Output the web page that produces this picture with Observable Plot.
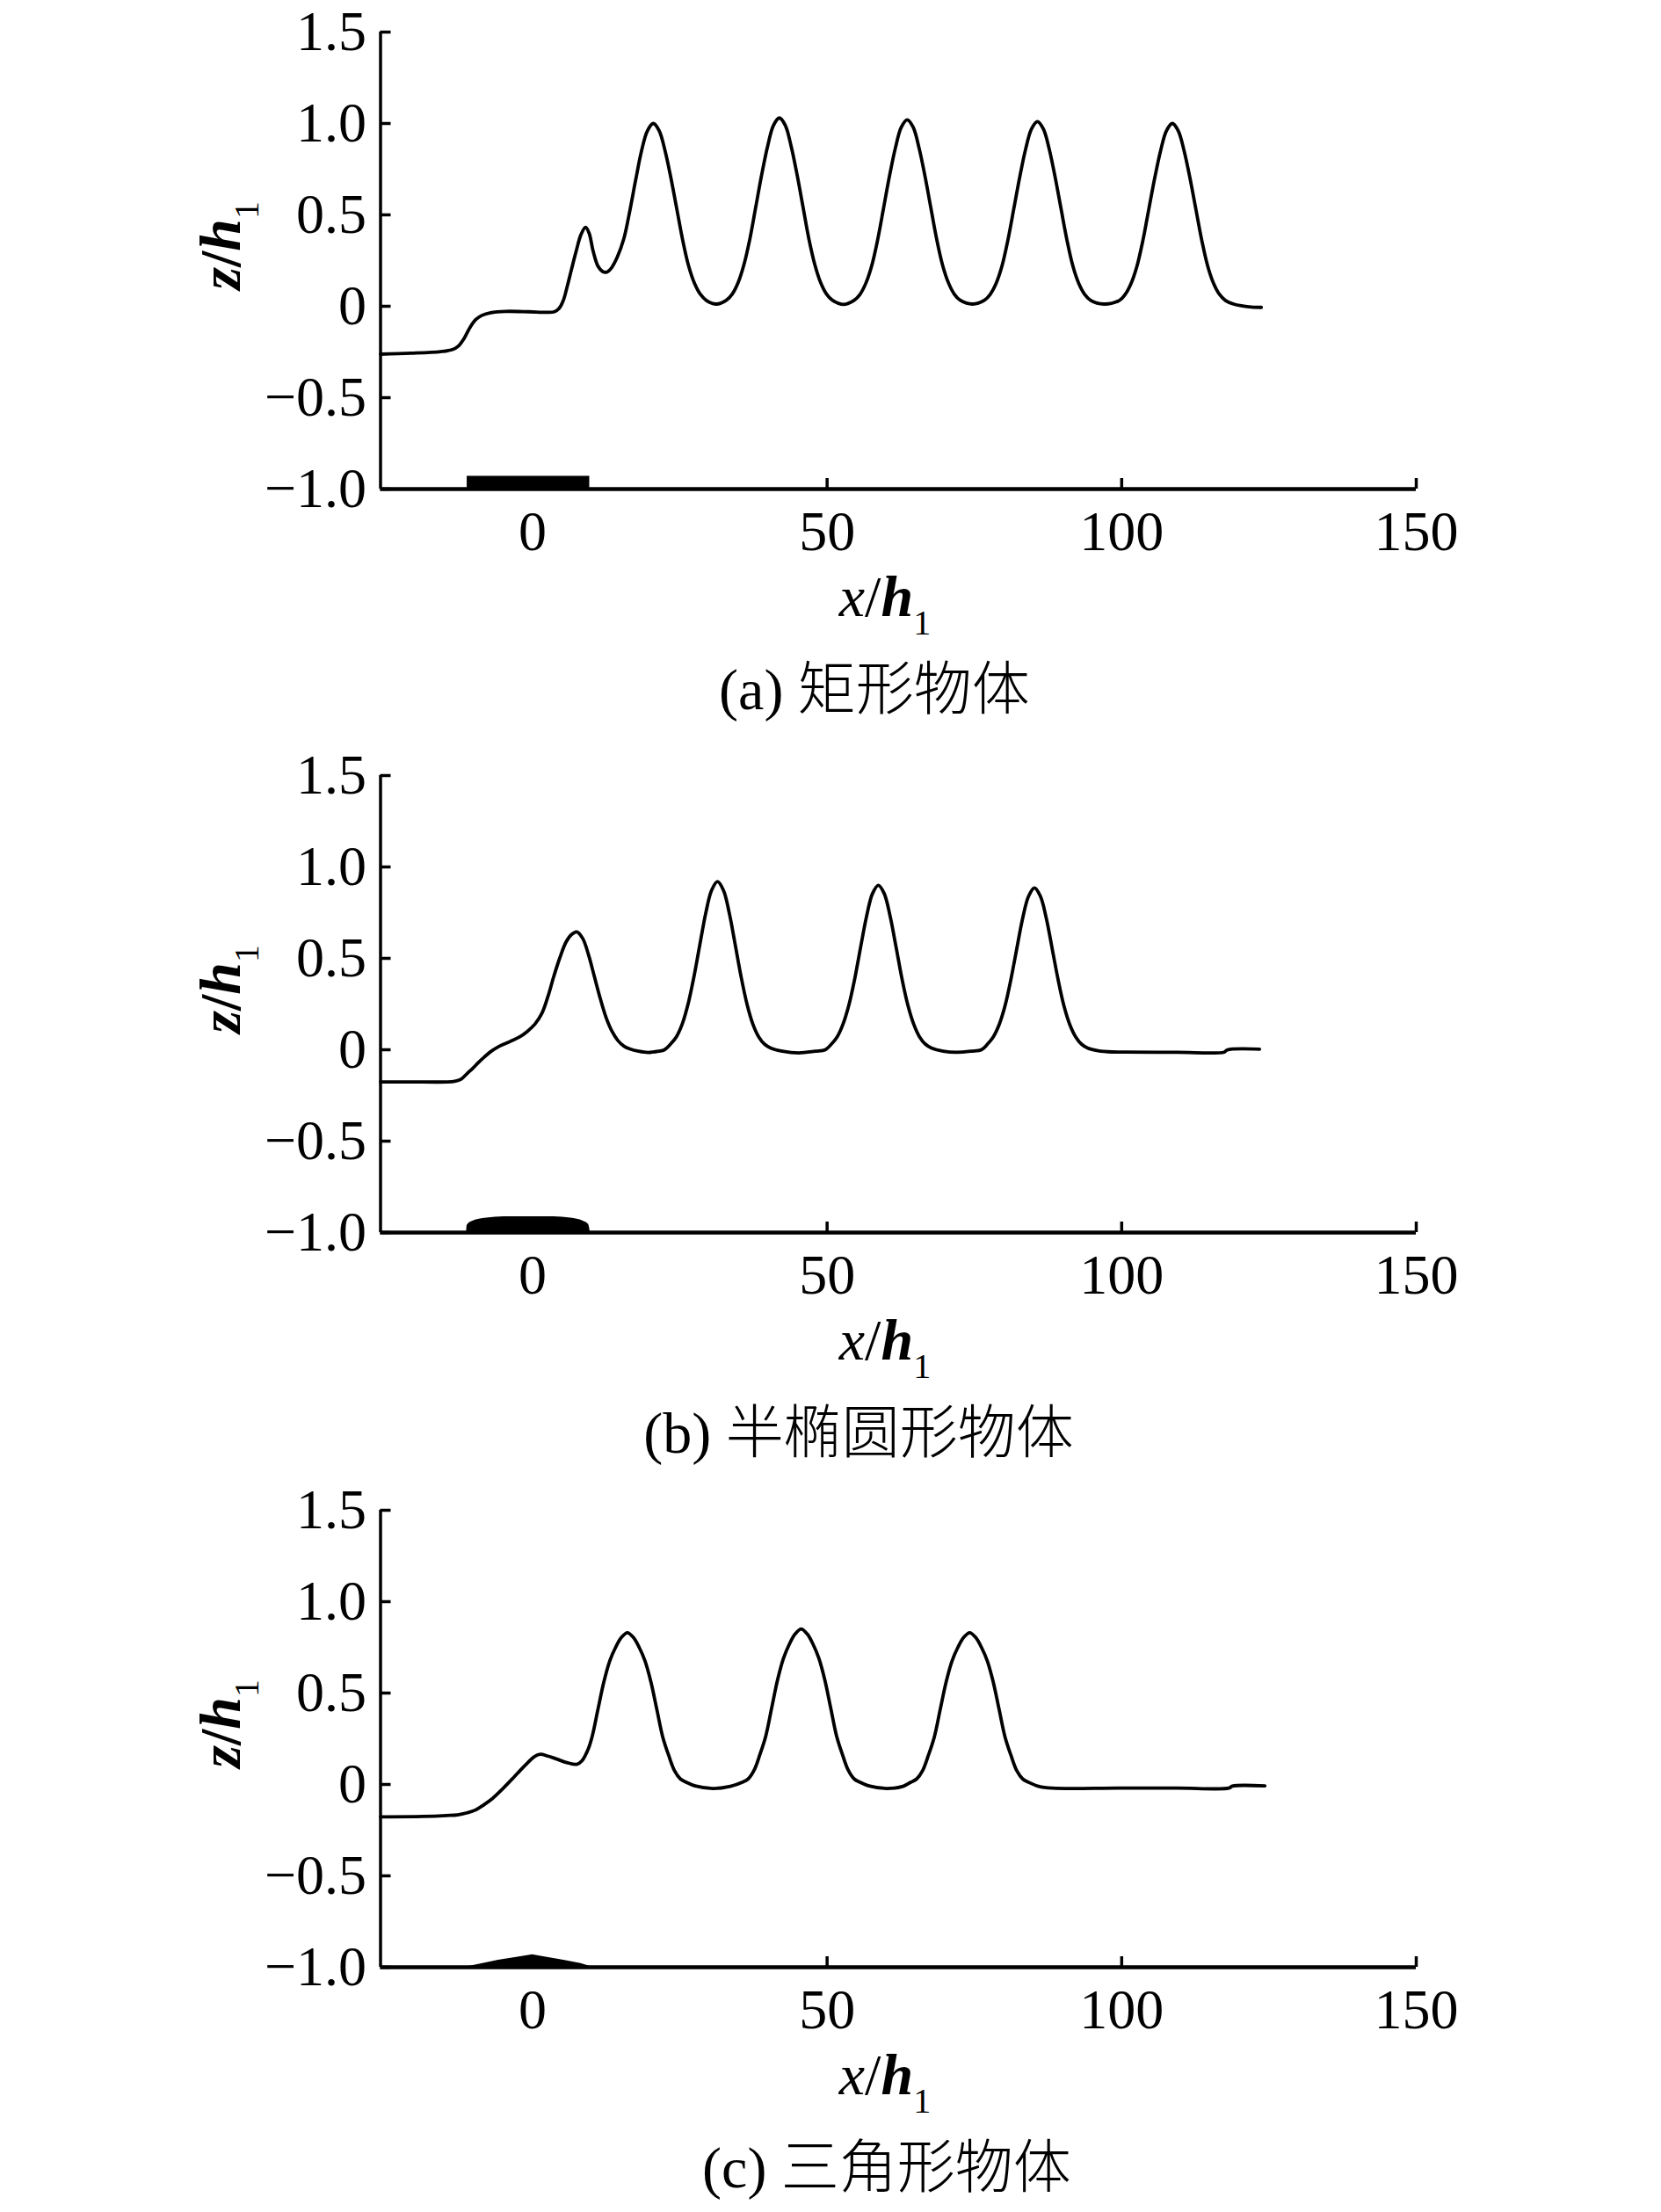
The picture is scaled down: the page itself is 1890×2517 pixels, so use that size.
<!DOCTYPE html>
<html>
<head>
<meta charset="utf-8">
<script src="https://cdn.jsdelivr.net/npm/d3@7"></script>
<script src="https://cdn.jsdelivr.net/npm/@observablehq/plot@0.6"></script>
<style>
  html, body { margin: 0; padding: 0; background: #fff; }
  body { width: 1890px; height: 2517px; position: relative; overflow: hidden;
         font-family: "Liberation Serif", "Times New Roman", serif; color: #000; }
  .panel { position: absolute; left: 0; width: 1890px; }
  .panel svg { display: block; overflow: visible; }
  .caption { position: absolute; font-size: 66px; line-height: 1; white-space: nowrap;
             transform: translateX(-50%); color: #000; font-weight: 300;
             font-family: "Liberation Serif", "Noto Sans CJK SC", serif; }
</style>
</head>
<body>
<script>
// ---------- axes ----------
const xDomain = [-25.8, 150];
const yDomain = [-1, 1.5];
const xTicks = [0, 50, 100, 150];
const yTicks = [-1, -0.5, 0, 0.5, 1, 1.5];

// ---------- captions ----------
const captions = ["(a) 矩形物体", "(b) 半椭圆形物体", "(c) 三角形物体"];

// ---------- (a) rectangular object ----------
const aX = [-25.8, -20.6, -15.6, -13.6, -12.6, -11.6, -10.6, -9.6, -8.6, -7.1, -4.6, -0.6, 2.4, 3.7, 4.5, 5.2, 5.9, 6.6, 7.4, 8.2, 9.0, 9.6, 10.3, 11.1, 11.9, 12.6, 13.4, 14.4, 15.5,
  16.5, 17.5, 18.5, 19.5, 20.5, 21.5, 22.5, 23.5, 24.5, 25.5, 26.5, 27.5, 28.5, 29.5, 31.2,
  32.9, 33.9, 34.9, 35.9, 36.9, 37.9, 38.9, 39.9, 40.9, 41.9, 42.9, 43.9, 44.9, 45.9, 46.9, 47.9, 48.9, 49.9, 50.9, 52.8,
  54.6, 55.6, 56.6, 57.6, 58.6, 59.6, 60.6, 61.6, 62.6, 63.6, 64.6, 65.6, 66.6, 67.6, 68.6, 69.6, 70.6, 71.6, 72.6, 74.7,
  76.7, 77.7, 78.7, 79.7, 80.7, 81.7, 82.7, 83.7, 84.7, 85.7, 86.7, 87.7, 88.7, 89.7, 90.7, 91.7, 92.7, 93.7, 94.7, 97.0,
  99.6, 100.6, 101.6, 102.6, 103.6, 104.6, 105.6, 106.6, 107.6, 108.6, 109.6, 110.6, 111.6, 112.6, 113.6, 114.6, 115.6, 116.6, 117.6, 119.0, 120.5, 122.0, 123.7];
const aZ = [-0.262, -0.257, -0.248, -0.237, -0.218, -0.175, -0.115, -0.072, -0.05, -0.035, -0.028, -0.03, -0.033, -0.03, -0.012, 0.03, 0.11, 0.2, 0.3, 0.39, 0.432, 0.4, 0.3, 0.22, 0.19, 0.187, 0.21, 0.27, 0.37,
  0.52, 0.69, 0.85, 0.96, 1.0, 0.96, 0.85, 0.7, 0.53, 0.36, 0.22, 0.125, 0.065, 0.032, 0.012,
  0.033, 0.067, 0.13, 0.23, 0.37, 0.545, 0.72, 0.875, 0.99, 1.03, 0.99, 0.875, 0.72, 0.545, 0.37, 0.23, 0.13, 0.067, 0.033, 0.01,
  0.033, 0.066, 0.128, 0.225, 0.367, 0.54, 0.714, 0.867, 0.98, 1.02, 0.98, 0.867, 0.714, 0.54, 0.367, 0.225, 0.128, 0.066, 0.033, 0.012,
  0.033, 0.066, 0.126, 0.222, 0.364, 0.535, 0.707, 0.86, 0.97, 1.01, 0.97, 0.86, 0.707, 0.535, 0.364, 0.222, 0.126, 0.066, 0.033, 0.012,
  0.032, 0.065, 0.125, 0.22, 0.36, 0.53, 0.7, 0.85, 0.96, 1.0, 0.96, 0.85, 0.7, 0.53, 0.36, 0.22, 0.125, 0.065, 0.032, 0.012, 0.002, -0.004, -0.006];
const aObjX = [-11.1, 9.7];
const aObjZ = [-1, -0.93];

// ---------- (b) semi-elliptical object ----------
const bX = [-25.8, -20.6, -14.6, -13.2, -12.1, -11.1, -10.1, -9.2, -8.2, -7.0, -5.6, -3.8, -2.2, -0.9, 0.4, 1.6, 2.6, 3.6, 4.6, 5.7, 6.6, 7.5, 8.5, 9.5, 10.5, 11.5, 12.5, 13.5, 14.5, 15.5, 16.5, 18.0, 19.6, 21.4,
  22.4, 23.4, 24.4, 25.4, 26.4, 27.4, 28.4, 29.4, 30.4, 31.4, 32.4, 33.4, 34.4, 35.4, 36.4, 37.4, 38.4, 39.4, 40.4, 42.4, 45.2, 48.0,
  49.7, 50.7, 51.7, 52.7, 53.7, 54.7, 55.7, 56.7, 57.7, 58.7, 59.7, 60.7, 61.7, 62.7, 63.7, 64.7, 65.7, 66.7, 67.7, 69.7, 72.0, 74.5,
  76.2, 77.2, 78.2, 79.2, 80.2, 81.2, 82.2, 83.2, 84.2, 85.2, 86.2, 87.2, 88.2, 89.2, 90.2, 91.2, 92.2, 93.2, 94.2, 96.0, 98.5, 100.5, 109.4, 117.4, 117.9, 123.4];
const bZ = [-0.176, -0.176, -0.176, -0.172, -0.16, -0.13, -0.1, -0.07, -0.04, -0.008, 0.02, 0.045, 0.07, 0.1, 0.14, 0.2, 0.29, 0.4, 0.5, 0.59, 0.63, 0.645, 0.61, 0.52, 0.4, 0.28, 0.175, 0.1, 0.05, 0.02, 0.005, -0.008, -0.015, -0.008,
  0.0, 0.03, 0.07, 0.14, 0.25, 0.4, 0.575, 0.747, 0.873, 0.92, 0.873, 0.747, 0.575, 0.4, 0.25, 0.14, 0.07, 0.03, 0.01, -0.008, -0.017, -0.008,
  0.0, 0.03, 0.07, 0.14, 0.245, 0.39, 0.563, 0.73, 0.854, 0.9, 0.854, 0.73, 0.563, 0.39, 0.245, 0.14, 0.07, 0.03, 0.01, -0.008, -0.014, -0.008,
  0.0, 0.03, 0.07, 0.137, 0.24, 0.385, 0.554, 0.72, 0.84, 0.885, 0.84, 0.72, 0.554, 0.385, 0.24, 0.137, 0.07, 0.03, 0.01, -0.005, -0.012, -0.013, -0.014, -0.013, -0.001, 0.003];
const bObjX = [-11.2, -11.1, -10.3, -7.8, -4.8, -0.7, 3.6, 6.5, 8.6, 9.5, 9.8];
const bObjZ = [-1, -0.96, -0.94, -0.921, -0.914, -0.913, -0.914, -0.921, -0.938, -0.955, -1];

// ---------- (c) triangular object ----------
const cX = [-25.8, -18.6, -14.6, -12.7, -11.1, -9.7, -8.2, -6.8, -5.1, -3.3, -2.0, -0.9, 0.2, 1.3, 2.6, 4.0, 5.8, 7.5, 8.4, 9.4, 10.1,
  11.1, 12.1, 13.1, 14.1, 15.1, 16.1, 17.1, 18.1, 19.1, 20.1, 21.1, 22.1, 23.1, 24.1, 25.1, 26.1, 27.6, 30.6, 33.6,
  35.6, 36.6, 37.6, 38.6, 39.6, 40.6, 41.6, 42.6, 43.6, 44.6, 45.6, 46.6, 47.6, 48.6, 49.6, 50.6, 51.6, 52.6, 53.6, 54.6, 55.6, 57.1, 60.1, 62.9,
  64.2, 65.2, 66.2, 67.2, 68.2, 69.2, 70.2, 71.2, 72.2, 73.2, 74.2, 75.2, 76.2, 77.2, 78.2, 79.2, 80.2, 81.2, 82.2, 83.2, 84.2, 85.9, 88.2, 99.4, 109.4, 118.2, 118.8, 124.3];
const cZ = [-0.177, -0.175, -0.17, -0.166, -0.155, -0.14, -0.11, -0.077, -0.025, 0.035, 0.08, 0.116, 0.15, 0.165, 0.155, 0.14, 0.12, 0.11, 0.13, 0.19, 0.26,
  0.41, 0.56, 0.675, 0.75, 0.805, 0.83, 0.805, 0.75, 0.675, 0.56, 0.41, 0.26, 0.16, 0.075, 0.03, 0.012, -0.008, -0.022, -0.01,
  0.012, 0.03, 0.077, 0.164, 0.266, 0.42, 0.573, 0.69, 0.768, 0.824, 0.85, 0.824, 0.768, 0.69, 0.573, 0.42, 0.266, 0.164, 0.077, 0.03, 0.012, -0.008, -0.022, -0.01,
  0.012, 0.03, 0.075, 0.16, 0.26, 0.41, 0.56, 0.675, 0.75, 0.805, 0.83, 0.805, 0.75, 0.675, 0.56, 0.41, 0.26, 0.16, 0.075, 0.03, 0.012, -0.01, -0.02, -0.02, -0.02, -0.02, -0.009, -0.008];
const cObjX = [-11.5, -8.8, -5.8, -2.5, 0, 2.3, 5.3, 8.2, 10.3];
const cObjZ = [-1, -0.982, -0.962, -0.945, -0.932, -0.945, -0.962, -0.98, -1];

// ---------- layout ----------
const W = 1890, H = 816, MT = 36, MB = 260, ML = 432.5, MR = 279;
const panelTops = [0, 846, 1682];
const captionCenters = [995, 977, 1009];
const captionTop = 752;
const serif = '"Liberation Serif", "Times New Roman", serif';

const fmtY = d => d === 0 ? "0" : (d < 0 ? "\u2212" : "") + Math.abs(d).toFixed(1);
const zip = (xs, zs) => xs.map((x, i) => ({x, z: zs[i], base: yDomain[0]}));

function objectMark(kind, xs, zs) {
  if (kind === "rect") {
    return Plot.rect([{x1: xs[0], x2: xs[1], y1: zs[0], y2: zs[1]}],
      {x1: "x1", x2: "x2", y1: "y1", y2: "y2", fill: "#000"});
  }
  return Plot.areaY(zip(xs, zs), {x: "x", y1: "base", y2: "z", fill: "#000",
    curve: kind === "ellipse" ? "monotone-x" : "linear"});
}

function makePanel(i, xs, zs, kind, ox, oz) {
  const plot = Plot.plot({
    width: W, height: H,
    marginTop: MT, marginBottom: MB, marginLeft: ML, marginRight: MR,
    x: {domain: xDomain},
    y: {domain: yDomain},
    style: {fontFamily: serif, fontSize: "64px", color: "#000", background: "transparent", overflow: "visible"},
    marks: [
      objectMark(kind, ox, oz),
      Plot.line(zip(xs, zs), {x: "x", y: "z", stroke: "#000", strokeWidth: 3.8, curve: "catmull-rom"}),
      Plot.axisY({ticks: yTicks, tickFormat: fmtY, tickSize: -12, tickPadding: 28, strokeWidth: 3.5, label: null, fontSize: 64}),
      Plot.axisX({ticks: xTicks, tickFormat: d => String(d), tickSize: -12, tickPadding: 36, strokeWidth: 3.5, label: null, fontSize: 64}),
      Plot.ruleX([xDomain[0]], {stroke: "#000", strokeWidth: 3.5}),
      Plot.ruleY([yDomain[0]], {stroke: "#000", strokeWidth: 4.5})
    ]
  });

  const sy = plot.scale("y");
  const svg = d3.select(plot);
  const bottom = sy.apply(yDomain[0]);

  // x title: x/h1
  const xt = svg.append("text")
    .attr("x", 1007).attr("y", bottom + 145)
    .attr("text-anchor", "middle")
    .style("font-family", serif).style("font-size", "66px").attr("fill", "#000");
  xt.append("tspan").attr("font-style", "italic").text("x");
  xt.append("tspan").text("/");
  xt.append("tspan").attr("font-style", "italic").attr("font-weight", "bold").text("h");
  xt.append("tspan").attr("dy", 21).style("font-size", "40px").text("1");

  // y title: z/h1 (rotated)
  const yt = svg.append("text")
    .attr("transform", `translate(273, ${sy.apply(0.33)}) rotate(-90)`)
    .attr("text-anchor", "middle")
    .style("font-family", serif).style("font-size", "66px").attr("fill", "#000");
  yt.append("tspan").attr("font-style", "italic").attr("font-weight", "bold").text("z");
  yt.append("tspan").attr("font-weight", "bold").text("/");
  yt.append("tspan").attr("font-style", "italic").attr("font-weight", "bold").text("h");
  yt.append("tspan").attr("dy", 21).style("font-size", "40px").text("1");

  const div = document.createElement("div");
  div.className = "panel";
  div.style.top = panelTops[i] + "px";
  div.appendChild(plot);
  const cap = document.createElement("div");
  cap.className = "caption";
  cap.style.left = captionCenters[i] + "px";
  cap.style.top = captionTop + "px";
  cap.textContent = captions[i];
  div.appendChild(cap);
  document.body.appendChild(div);
}

makePanel(0, aX, aZ, "rect", aObjX, aObjZ);
makePanel(1, bX, bZ, "ellipse", bObjX, bObjZ);
makePanel(2, cX, cZ, "triangle", cObjX, cObjZ);
</script>
</body>
</html>
